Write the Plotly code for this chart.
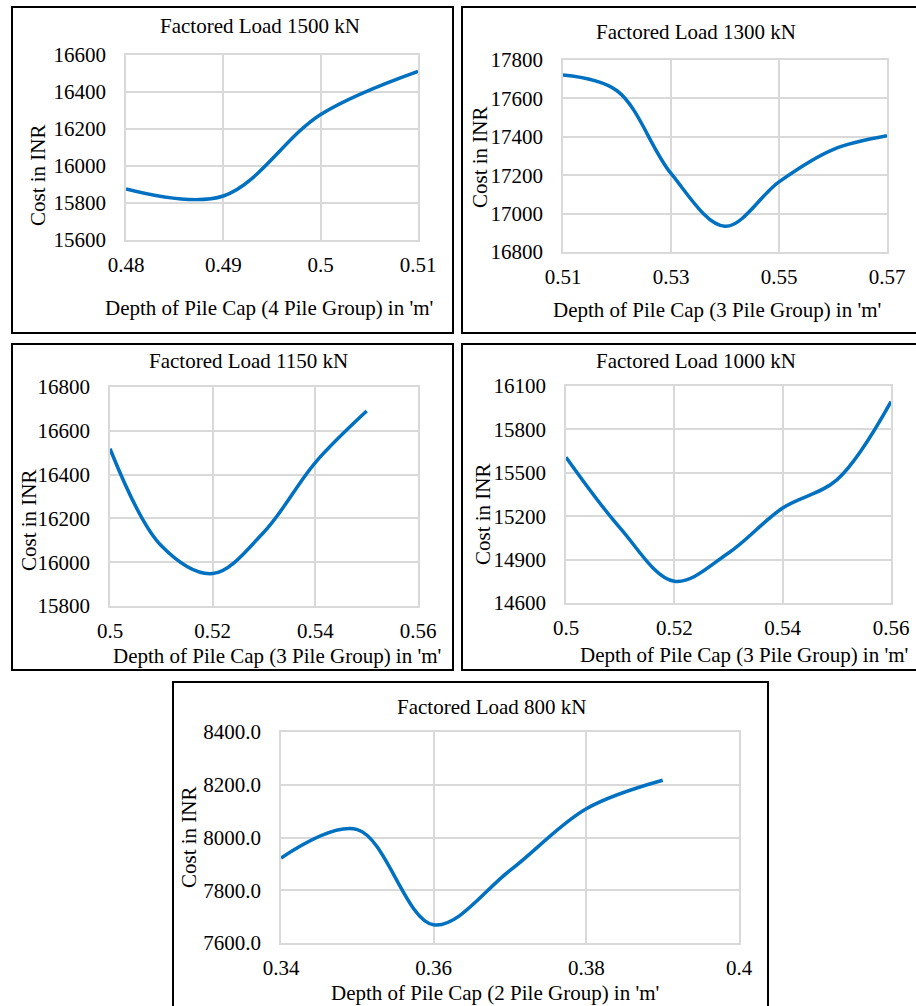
import plotly.graph_objects as go

# ---------------- data ----------------
depth_1500 = [0.48, 0.49, 0.50, 0.51]
cost_1500 = [15876, 15838, 16279, 16512]

depth_1300 = [0.51, 0.52, 0.53, 0.54, 0.55, 0.56, 0.57]
cost_1300 = [17722, 17640, 17209, 16934, 17165, 17333, 17405]

depth_1150 = [0.50, 0.51, 0.52, 0.53, 0.54, 0.55]
cost_1150 = [16518, 16075, 15948, 16138, 16455, 16690]

depth_1000 = [0.50, 0.51, 0.52, 0.53, 0.54, 0.55, 0.56]
cost_1000 = [15608, 15118, 14750, 14946, 15257, 15451, 15992]

depth_800 = [0.34, 0.35, 0.36, 0.37, 0.38, 0.39]
cost_800 = [7922, 8030, 7669, 7875, 8109, 8217]

titles = ["Factored Load 1500 kN", "Factored Load 1300 kN", "Factored Load 1150 kN",
          "Factored Load 1000 kN", "Factored Load 800 kN"]
xtitles = ["Depth of Pile Cap (4 Pile Group) in 'm'", "Depth of Pile Cap (3 Pile Group) in 'm'",
           "Depth of Pile Cap (3 Pile Group) in 'm'", "Depth of Pile Cap (3 Pile Group) in 'm'",
           "Depth of Pile Cap (2 Pile Group) in 'm'"]
ytitle = "Cost in INR"

xticks_1500 = [0.48, 0.49, 0.50, 0.51]
xlabels_1500 = ["0.48", "0.49", "0.5", "0.51"]
xticks_1300 = [0.51, 0.53, 0.55, 0.57]
xlabels_1300 = ["0.51", "0.53", "0.55", "0.57"]
xticks_115 = [0.50, 0.52, 0.54, 0.56]
xlabels_115 = ["0.5", "0.52", "0.54", "0.56"]
xticks_800 = [0.34, 0.36, 0.38, 0.40]
xlabels_800 = ["0.34", "0.36", "0.38", "0.4"]

yrange_1500 = [15600, 16600]
yrange_1300 = [16800, 17800]
yrange_1150 = [15800, 16800]
yrange_1000 = [14600, 16100]
yrange_800 = [7600, 8400]

# ---------------- layout helpers ----------------
W, H = 916, 1006
FONT = "Liberation Serif"
FS = 21
BLUE = "rgb(0,112,192)"
GRID = "#D9D9D9"


def px(x):
    return x / W


def py(y):
    return 1 - y / H


panels = [
    dict(x=depth_1500, y=cost_1500, xt=xticks_1500, xl=xlabels_1500, yr=yrange_1500, dy=200, yf="d",
         plot=(126, 55, 418, 240), box=(12, 7, 453, 333),
         title=(260, 26), xtitle=(269, 308), ytitle=(38, 175)),
    dict(x=depth_1300, y=cost_1300, xt=xticks_1300, xl=xlabels_1300, yr=yrange_1300, dy=200, yf="d",
         plot=(563, 60, 887, 252), box=(462, 7, 925, 333),
         title=(696, 32), xtitle=(717, 310), ytitle=(480, 157)),
    dict(x=depth_1150, y=cost_1150, xt=xticks_115, xl=xlabels_115, yr=yrange_1150, dy=200, yf="d",
         plot=(110, 387, 418, 606), box=(12, 344, 453, 670),
         title=(248, 361), xtitle=(277, 656), ytitle=(29, 520)),
    dict(x=depth_1000, y=cost_1000, xt=xticks_115, xl=xlabels_115, yr=yrange_1000, dy=300, yf="d",
         plot=(566, 386, 891, 603), box=(462, 344, 925, 670),
         title=(696, 361), xtitle=(744, 655), ytitle=(483, 514)),
    dict(x=depth_800, y=cost_800, xt=xticks_800, xl=xlabels_800, yr=yrange_800, dy=200, yf=".1f",
         plot=(281, 732, 739, 943), box=(173, 682, 768, 1015),
         title=(492, 707), xtitle=(495, 993), ytitle=(189, 837)),
]

fig = go.Figure()
shapes = []
annotations = []
layout_axes = {}
tfont = dict(family=FONT, size=FS, color="#000")

for i, p in enumerate(panels):
    n = "" if i == 0 else str(i + 1)
    fig.add_trace(go.Scatter(
        x=p["x"], y=p["y"], mode="lines",
        line=dict(color=BLUE, width=3.5, shape="spline", smoothing=1.0),
        xaxis="x" + n, yaxis="y" + n, showlegend=False, hoverinfo="x+y"))
    l, t, r, b = p["plot"]
    layout_axes["xaxis" + n] = dict(
        domain=[px(l), px(r)], anchor="y" + n, range=[p["xt"][0], p["xt"][-1]],
        tickmode="array", tickvals=p["xt"], ticktext=p["xl"],
        showgrid=True, gridcolor=GRID, gridwidth=1.5,
        showline=True, linecolor=GRID, linewidth=1.5, mirror=True,
        zeroline=False, ticks="", ticklabelstandoff=5, automargin=False,
        tickfont=tfont, fixedrange=True)
    layout_axes["yaxis" + n] = dict(
        domain=[py(b), py(t)], anchor="x" + n, range=p["yr"], dtick=p["dy"], tick0=p["yr"][0],
        tickformat=p["yf"],
        showgrid=True, gridcolor=GRID, gridwidth=1.5,
        showline=True, linecolor=GRID, linewidth=1.5, mirror=True,
        zeroline=False, ticks="", ticklabelstandoff=14, automargin=False,
        tickfont=tfont, fixedrange=True)

    bl, bt, br, bb = p["box"]
    shapes.append(dict(type="rect", xref="paper", yref="paper",
                       x0=px(bl), x1=px(br), y0=py(bb), y1=py(bt),
                       line=dict(color="#000", width=2), fillcolor="rgba(0,0,0,0)", layer="above"))
    annotations.append(dict(text=titles[i], x=px(p["title"][0]), y=py(p["title"][1]),
                            xref="paper", yref="paper", showarrow=False,
                            xanchor="center", yanchor="middle", font=tfont))
    annotations.append(dict(text=xtitles[i], x=px(p["xtitle"][0]), y=py(p["xtitle"][1]),
                            xref="paper", yref="paper", showarrow=False,
                            xanchor="center", yanchor="middle", font=tfont))
    annotations.append(dict(text=ytitle, x=px(p["ytitle"][0]), y=py(p["ytitle"][1]),
                            xref="paper", yref="paper", showarrow=False, textangle=-90,
                            xanchor="center", yanchor="middle", font=tfont))

fig.update_layout(
    template="none",
    width=W, height=H, margin=dict(l=0, r=0, t=0, b=0, autoexpand=False),
    font=dict(family=FONT, size=FS, color="#000"),
    paper_bgcolor="white", plot_bgcolor="white",
    shapes=shapes, annotations=annotations, showlegend=False,
    **layout_axes)

fig.write_html("out.html")
